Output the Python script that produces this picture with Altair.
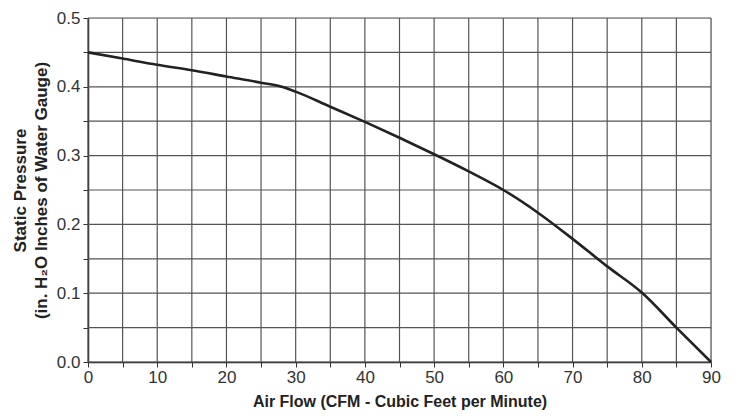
import altair as alt
import pandas as pd

airflow = [0, 5, 10, 15, 20, 25, 28, 30, 35, 40, 45, 50, 55, 60, 65, 70, 75, 80, 85, 90]
pressure = [0.45, 0.441, 0.432, 0.424, 0.415, 0.406, 0.400, 0.393, 0.371, 0.349, 0.326, 0.302, 0.277, 0.250, 0.217, 0.179, 0.139, 0.101, 0.050, 0.0]

x_grid = [0, 5, 10, 15, 20, 25, 30, 35, 40, 45, 50, 55, 60, 65, 70, 75, 80, 85, 90]
y_grid = [0.0, 0.05, 0.1, 0.15, 0.2, 0.25, 0.3, 0.35, 0.4, 0.45, 0.5]

curve = pd.DataFrame({"x": airflow, "y": pressure})
xg = pd.DataFrame({"x": x_grid})
yg = pd.DataFrame({"y": y_grid})

FONT = "Liberation Sans"
W, H = 623, 344
xscale = alt.Scale(domain=[0, 90], nice=False, zero=False)
yscale = alt.Scale(domain=[0, 0.5], nice=False, zero=False)

xaxis = alt.Axis(values=x_grid, grid=False, labelExpr="datum.value % 10 == 0 ? format(datum.value, 'd') : ''",
                 labelFont=FONT, labelFontSize=17, labelFlush=False,
                 labelColor="#333", tickColor="#333", tickSize=5, domainColor="#222", domainWidth=1.5,
                 labelPadding=2, title="Air Flow (CFM - Cubic Feet per Minute)", titleFont=FONT,
                 titleFontSize=16, titleFontWeight="bold", titleColor="#222", titlePadding=8)
yaxis = alt.Axis(values=y_grid, grid=False,
                 labelExpr="round(datum.value * 100) % 10 == 0 ? format(datum.value, '.1f') : ''",
                 labelFont=FONT, labelFontSize=17, labelFlush=False,
                 labelColor="#333", tickColor="#333", tickSize=5, domainColor="#222", domainWidth=1.5,
                 labelPadding=3, title=["Static Pressure", "(in. H₂O Inches of Water Gauge)"],
                 titleFont=FONT, titleFontSize=17, titleFontWeight="bold", titleColor="#222",
                 titlePadding=6, titleLineHeight=21)

vgrid = alt.Chart(xg).mark_rule(color="#555", strokeWidth=1.2).encode(
    x=alt.X("x:Q", scale=xscale, axis=xaxis),
    y=alt.value(0), y2=alt.value(H))
hgrid = alt.Chart(yg).mark_rule(color="#555", strokeWidth=1.2).encode(
    y=alt.Y("y:Q", scale=yscale, axis=yaxis),
    x=alt.value(0), x2=alt.value(W))
line = alt.Chart(curve).mark_line(color="#222", strokeWidth=2.6, interpolate="monotone").encode(
    x=alt.X("x:Q", scale=xscale, axis=xaxis),
    y=alt.Y("y:Q", scale=yscale, axis=yaxis))

chart = alt.layer(vgrid, hgrid, line).properties(
    width=W, height=H,
    autosize=alt.AutoSizeParams(type="none"),
    padding={"left": 80, "top": 10, "right": 10, "bottom": 50},
).configure_view(stroke=None).configure(background="white")

chart.save("out.html", embed_options={"renderer": "svg", "actions": False})
